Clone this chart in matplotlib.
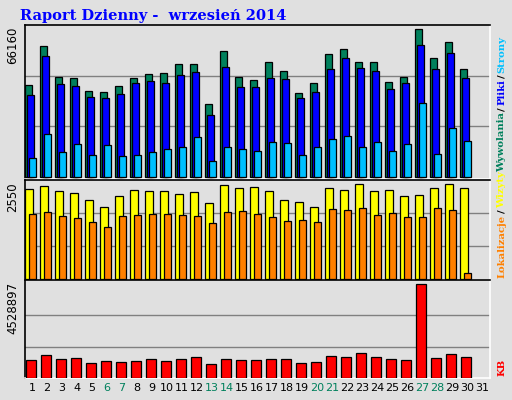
import matplotlib
matplotlib.use("Agg")
import matplotlib.pyplot as plt

days = list(range(1, 32))
weekend_days = [6, 7, 13, 14, 20, 21, 27, 28]
hits = [40000,57000,43500,43100,37400,37000,39600,43100,44800,45300,49200,49200,31800,54800,43500,
        42200,50000,46100,36500,40900,53500,55700,50000,50000,41300,43500,64400,51800,58700,47000]
files = [35700,52700,40500,39600,34800,34400,36100,40900,41800,40900,44400,45700,27000,47900,39200,
         39200,43100,42600,34400,37000,47000,51800,47400,46100,38300,40900,57400,47000,54000,43100]
pages = [8300,18700,10900,14400,9600,13900,9100,9600,10900,12200,13100,17400,7000,13100,12200,
         11300,15200,14800,9600,13100,16500,17800,13100,15200,11300,14400,32200,10000,21300,15700]
visits = [2316,2394,2265,2213,2032,1851,2135,2290,2265,2265,2187,2239,1955,2419,2342,
          2368,2265,2032,1980,1851,2342,2290,2445,2265,2290,2135,2161,2342,2445,2342]
sites = [1670,1722,1619,1567,1464,1360,1619,1644,1670,1670,1644,1619,1438,1722,1748,
         1670,1593,1490,1515,1464,1800,1774,1825,1644,1696,1593,1593,1825,1774,172]
kbytes = [850000,1095000,899000,948000,703000,801000,752000,801000,899000,801000,899000,997000,
          654000,899000,850000,850000,899000,899000,703000,752000,1046000,997000,1194000,997000,
          899000,850000,4528897,948000,1144000,997000]
max_hits = 66160
max_visits = 2550
max_kb = 4528897
title = "Raport Dzienny -  wrzesień 2014"

BG = "#e0e0e0"
W, H = 512, 400
fig = plt.figure(figsize=(W/100, H/100), dpi=100, facecolor=BG)

def mkax(y0, y1):
    ax = fig.add_axes([25/W, 1 - y1/H, 465/W, (y1 - y0)/H], facecolor=BG)
    ax.set_xlim(25, 490)
    ax.set_xticks([]); ax.set_yticks([])
    ax.spines['left'].set_color('black'); ax.spines['top'].set_color('black')
    ax.spines['right'].set_color('white'); ax.spines['bottom'].set_color('white')
    for s in ax.spines.values():
        s.set_linewidth(1.2)
    return ax

xc = [32 + 15 * (d - 1) for d in days[:30]]
ek = dict(edgecolor='black', linewidth=0.9, align='edge', width=7.3, zorder=3)

ax1 = mkax(25, 179)
ax1.set_ylim(-870, max_hits)
for f in (1/3, 2/3):
    ax1.axhline(max_hits * f, color='#808080', lw=1, zorder=1)
ax1.bar([x - 7 for x in xc], hits, color='#00805c', **ek)
ax1.bar([x - 5 for x in xc], files, color='#0000ff', **ek)
ax1.bar([x - 3 for x in xc], pages, color='#00c0ff', **ek)

ax2 = mkax(180, 280)
ax2.set_ylim(-18, 2558)
for f in (1/3, 2/3):
    ax2.axhline(max_visits * f, color='#808080', lw=1, zorder=1)
ax2.bar([x - 7 for x in xc], visits, color='#ffff00', edgecolor='black', linewidth=0.9,
        align='edge', width=8.3, zorder=3)
ax2.bar([x - 3 for x in xc], sites, color='#ff8000', **ek)

ax3 = mkax(280, 378)
ax3.set_ylim(0, max_kb * 1.043)
for f in (1/3, 2/3):
    ax3.axhline(max_kb * f, color='#808080', lw=1, zorder=1)
ax3.bar([x - 6 for x in xc], kbytes, color='#ff0000', edgecolor='black', linewidth=0.9,
        align='edge', width=10.3, zorder=3)

def px(x, y):
    return x / W, 1 - y / H

for d in days:
    x = 32 + 15 * (d - 1)
    fig.text(*px(x, 388), str(d), ha='center', va='center', fontsize=8,
             color='#00805c' if d in weekend_days else 'black')

fig.text(*px(20, 16), title, fontsize=10.5, fontweight='bold', color='#0000ff',
         family='DejaVu Serif', va='center', ha='left')

lk = dict(rotation=90, fontsize=8.5, va='top', ha='center', color='black')
fig.text(*px(13, 27), str(max_hits), **lk)
fig.text(*px(13, 182), str(max_visits), **lk)
fig.text(*px(13, 282), str(max_kb), **lk)

rk = dict(rotation=90, fontsize=7.2, fontweight='bold', family='DejaVu Serif', ha='center',
          va='bottom')
renderer = fig.canvas.get_renderer()

def stack(y_start, parts):
    y = y_start
    for s, c in parts:
        t = fig.text(*px(502, y), s, color=c, **rk)
        bb = t.get_window_extent(renderer)
        y = y - bb.height - 1.5

stack(172, [("Wywolania", '#00805c'), ("/", 'black'), ("Pliki", '#0000ff'),
            ("/", 'black'), ("Strony", '#00c0ff')])
stack(278, [("Lokalizacje", '#ff8000'), ("/", 'black'), ("Wizyty", '#ffff00')])
stack(376, [("KB", '#ff0000')])

fig.savefig("out.png", dpi=100, facecolor=BG)
